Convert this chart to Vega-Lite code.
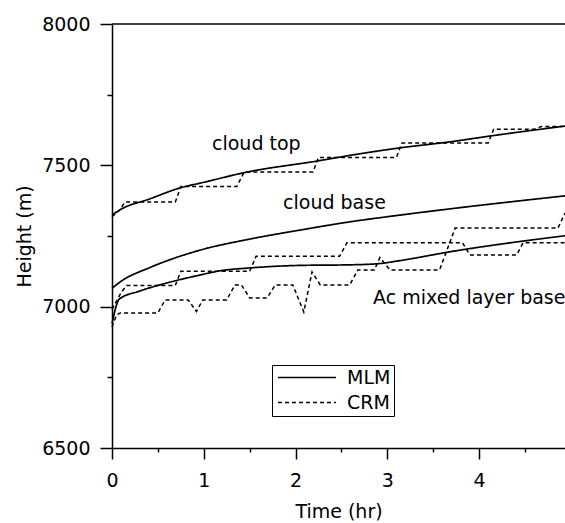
{
  "$schema": "https://vega.github.io/schema/vega-lite/v6.json",
  "width": 453,
  "height": 424,
  "autosize": {"type": "none"},
  "padding": {"left": 112, "top": 24, "right": 0, "bottom": 75},
  "background": "white",
  "config": {
    "view": {"stroke": null},
    "font": "DejaVu Sans",
    "axis": {
      "grid": false,
      "domainColor": "black",
      "tickColor": "black",
      "labelColor": "black",
      "titleColor": "black",
      "labelFont": "DejaVu Sans",
      "titleFont": "DejaVu Sans",
      "labelFontSize": 19,
      "titleFontSize": 19,
      "titleFontWeight": "normal",
      "domainWidth": 1.5,
      "tickWidth": 1.5
    }
  },
  "datasets": {
    "mlm": [
      {"series": "top", "model": "MLM", "t": 0, "h": 7324},
      {"series": "top", "model": "MLM", "t": 0.1, "h": 7345},
      {"series": "top", "model": "MLM", "t": 0.4, "h": 7380},
      {"series": "top", "model": "MLM", "t": 0.74, "h": 7420},
      {"series": "top", "model": "MLM", "t": 1.0, "h": 7440},
      {"series": "top", "model": "MLM", "t": 1.47, "h": 7476},
      {"series": "top", "model": "MLM", "t": 2.23, "h": 7515},
      {"series": "top", "model": "MLM", "t": 2.59, "h": 7535},
      {"series": "top", "model": "MLM", "t": 3.12, "h": 7561},
      {"series": "top", "model": "MLM", "t": 3.68, "h": 7583},
      {"series": "top", "model": "MLM", "t": 4.15, "h": 7605},
      {"series": "top", "model": "MLM", "t": 4.937, "h": 7639},
      {"series": "base", "model": "MLM", "t": 0, "h": 7065},
      {"series": "base", "model": "MLM", "t": 0.1, "h": 7090},
      {"series": "base", "model": "MLM", "t": 0.41, "h": 7138},
      {"series": "base", "model": "MLM", "t": 0.96, "h": 7200},
      {"series": "base", "model": "MLM", "t": 1.5, "h": 7239},
      {"series": "base", "model": "MLM", "t": 2.05, "h": 7271},
      {"series": "base", "model": "MLM", "t": 2.59, "h": 7300},
      {"series": "base", "model": "MLM", "t": 3.14, "h": 7324},
      {"series": "base", "model": "MLM", "t": 3.76, "h": 7349},
      {"series": "base", "model": "MLM", "t": 4.937, "h": 7392},
      {"series": "ac", "model": "MLM", "t": 0, "h": 6940},
      {"series": "ac", "model": "MLM", "t": 0.08, "h": 7027},
      {"series": "ac", "model": "MLM", "t": 0.3, "h": 7055},
      {"series": "ac", "model": "MLM", "t": 0.6, "h": 7084},
      {"series": "ac", "model": "MLM", "t": 0.96, "h": 7112},
      {"series": "ac", "model": "MLM", "t": 1.18, "h": 7127},
      {"series": "ac", "model": "MLM", "t": 1.5, "h": 7137},
      {"series": "ac", "model": "MLM", "t": 2.05, "h": 7146},
      {"series": "ac", "model": "MLM", "t": 2.59, "h": 7148},
      {"series": "ac", "model": "MLM", "t": 2.9, "h": 7152},
      {"series": "ac", "model": "MLM", "t": 3.14, "h": 7163},
      {"series": "ac", "model": "MLM", "t": 3.68, "h": 7194},
      {"series": "ac", "model": "MLM", "t": 4.937, "h": 7251}
    ],
    "crm": [
      {"series": "top", "model": "CRM", "t": 0, "h": 7318},
      {"series": "top", "model": "CRM", "t": 0.08, "h": 7340},
      {"series": "top", "model": "CRM", "t": 0.14, "h": 7370},
      {"series": "top", "model": "CRM", "t": 0.69, "h": 7370},
      {"series": "top", "model": "CRM", "t": 0.75, "h": 7425},
      {"series": "top", "model": "CRM", "t": 1.36, "h": 7425},
      {"series": "top", "model": "CRM", "t": 1.44, "h": 7476},
      {"series": "top", "model": "CRM", "t": 2.19, "h": 7476},
      {"series": "top", "model": "CRM", "t": 2.25, "h": 7528},
      {"series": "top", "model": "CRM", "t": 3.1, "h": 7528},
      {"series": "top", "model": "CRM", "t": 3.16, "h": 7579},
      {"series": "top", "model": "CRM", "t": 4.1, "h": 7579},
      {"series": "top", "model": "CRM", "t": 4.16, "h": 7628},
      {"series": "top", "model": "CRM", "t": 4.6, "h": 7628},
      {"series": "top", "model": "CRM", "t": 4.68, "h": 7637},
      {"series": "top", "model": "CRM", "t": 4.937, "h": 7637},
      {"series": "base", "model": "CRM", "t": 0, "h": 6990},
      {"series": "base", "model": "CRM", "t": 0.1, "h": 7050},
      {"series": "base", "model": "CRM", "t": 0.16, "h": 7075},
      {"series": "base", "model": "CRM", "t": 0.69, "h": 7075},
      {"series": "base", "model": "CRM", "t": 0.75, "h": 7125},
      {"series": "base", "model": "CRM", "t": 1.5, "h": 7125},
      {"series": "base", "model": "CRM", "t": 1.57, "h": 7178},
      {"series": "base", "model": "CRM", "t": 2.48, "h": 7178},
      {"series": "base", "model": "CRM", "t": 2.56, "h": 7226},
      {"series": "base", "model": "CRM", "t": 3.82, "h": 7226},
      {"series": "base", "model": "CRM", "t": 3.9, "h": 7183},
      {"series": "base", "model": "CRM", "t": 4.41, "h": 7183},
      {"series": "base", "model": "CRM", "t": 4.48, "h": 7226},
      {"series": "base", "model": "CRM", "t": 4.937, "h": 7226},
      {"series": "ac", "model": "CRM", "t": 0, "h": 6928},
      {"series": "ac", "model": "CRM", "t": 0.05, "h": 6971},
      {"series": "ac", "model": "CRM", "t": 0.09, "h": 6978},
      {"series": "ac", "model": "CRM", "t": 0.5, "h": 6978},
      {"series": "ac", "model": "CRM", "t": 0.58, "h": 7024},
      {"series": "ac", "model": "CRM", "t": 0.83, "h": 7024},
      {"series": "ac", "model": "CRM", "t": 0.92, "h": 6983},
      {"series": "ac", "model": "CRM", "t": 0.99, "h": 7024},
      {"series": "ac", "model": "CRM", "t": 1.25, "h": 7024},
      {"series": "ac", "model": "CRM", "t": 1.34, "h": 7077},
      {"series": "ac", "model": "CRM", "t": 1.41, "h": 7077},
      {"series": "ac", "model": "CRM", "t": 1.5, "h": 7031},
      {"series": "ac", "model": "CRM", "t": 1.69, "h": 7031},
      {"series": "ac", "model": "CRM", "t": 1.78, "h": 7077},
      {"series": "ac", "model": "CRM", "t": 1.97, "h": 7077},
      {"series": "ac", "model": "CRM", "t": 2.09, "h": 6981},
      {"series": "ac", "model": "CRM", "t": 2.18, "h": 7123},
      {"series": "ac", "model": "CRM", "t": 2.27, "h": 7077},
      {"series": "ac", "model": "CRM", "t": 2.59, "h": 7077},
      {"series": "ac", "model": "CRM", "t": 2.68, "h": 7130},
      {"series": "ac", "model": "CRM", "t": 2.86, "h": 7130},
      {"series": "ac", "model": "CRM", "t": 2.92, "h": 7174},
      {"series": "ac", "model": "CRM", "t": 3.03, "h": 7130},
      {"series": "ac", "model": "CRM", "t": 3.57, "h": 7130},
      {"series": "ac", "model": "CRM", "t": 3.74, "h": 7278},
      {"series": "ac", "model": "CRM", "t": 4.86, "h": 7278},
      {"series": "ac", "model": "CRM", "t": 4.937, "h": 7331}
    ],
    "labels": [
      {"t": 1.09, "h": 7555, "label": "cloud top"},
      {"t": 1.864, "h": 7344, "label": "cloud base"},
      {"t": 2.845, "h": 7009, "label": "Ac mixed layer base"}
    ]
  },
  "layer": [
    {
      "data": {"name": "mlm"},
      "mark": {"type": "line", "interpolate": "monotone", "color": "black", "strokeWidth": 1.7},
      "encoding": {
        "x": {
          "field": "t", "type": "quantitative",
          "scale": {"domain": [0, 4.937], "nice": false, "zero": false},
          "axis": {
            "title": "Time (hr)",
            "values": [0, 0.5, 1, 1.5, 2, 2.5, 3, 3.5, 4, 4.5],
            "labelExpr": "datum.value % 1 === 0 ? format(datum.value, 'd') : ''",
            "tickSize": {"condition": {"test": "datum.value % 1 === 0", "value": 11}, "value": 4},
            "labelBaseline": "alphabetic",
            "labelPadding": 27,
            "labelFlush": false,
            "labelOverlap": false,
            "titleBaseline": "alphabetic",
            "titleY": 69
          }
        },
        "y": {
          "field": "h", "type": "quantitative",
          "scale": {"domain": [6500, 8000], "nice": false, "zero": false},
          "axis": {
            "title": "Height (m)",
            "values": [6500, 6750, 7000, 7250, 7500, 7750, 8000],
            "format": "d",
            "labelExpr": "datum.value % 500 === 0 ? datum.label : ''",
            "tickSize": {"condition": {"test": "datum.value % 500 === 0", "value": 12}, "value": 5},
            "labelPadding": 10,
            "labelFlush": false,
            "labelOverlap": false,
            "titleBaseline": "alphabetic",
            "titleX": -82,
            "titleY": 212
          }
        },
        "detail": {"field": "series"},
        "strokeDash": {
          "field": "model", "type": "nominal",
          "scale": {"domain": ["MLM", "CRM"], "range": [[1, 0], [4, 3]]},
          "legend": {
            "title": null,
            "orient": "none",
            "legendX": 160,
            "legendY": 341,
            "strokeColor": "black",
            "padding": 3,
            "clipHeight": 19,
            "symbolType": "stroke",
            "symbolSize": 3364,
            "symbolOffset": 2,
            "symbolStrokeWidth": 1.5,
            "symbolStrokeColor": "black",
            "labelFont": "DejaVu Sans",
            "labelFontSize": 19,
            "labelColor": "black",
            "labelOffset": 10,
            "rowPadding": 5
          }
        }
      }
    },
    {
      "data": {"name": "crm"},
      "mark": {"type": "line", "color": "black", "strokeWidth": 1.5},
      "encoding": {
        "x": {"field": "t", "type": "quantitative"},
        "y": {"field": "h", "type": "quantitative"},
        "detail": {"field": "series"},
        "strokeDash": {"field": "model", "type": "nominal"}
      }
    },
    {
      "data": {"values": [{"h": 8000}]},
      "mark": {"type": "rule", "color": "black", "strokeWidth": 1.5},
      "encoding": {"y": {"field": "h", "type": "quantitative"}}
    },
    {
      "data": {"name": "labels"},
      "mark": {"type": "text", "font": "DejaVu Sans", "fontSize": 19, "align": "left", "baseline": "alphabetic", "color": "black"},
      "encoding": {
        "x": {"field": "t", "type": "quantitative"},
        "y": {"field": "h", "type": "quantitative"},
        "text": {"field": "label"}
      }
    }
  ]
}
